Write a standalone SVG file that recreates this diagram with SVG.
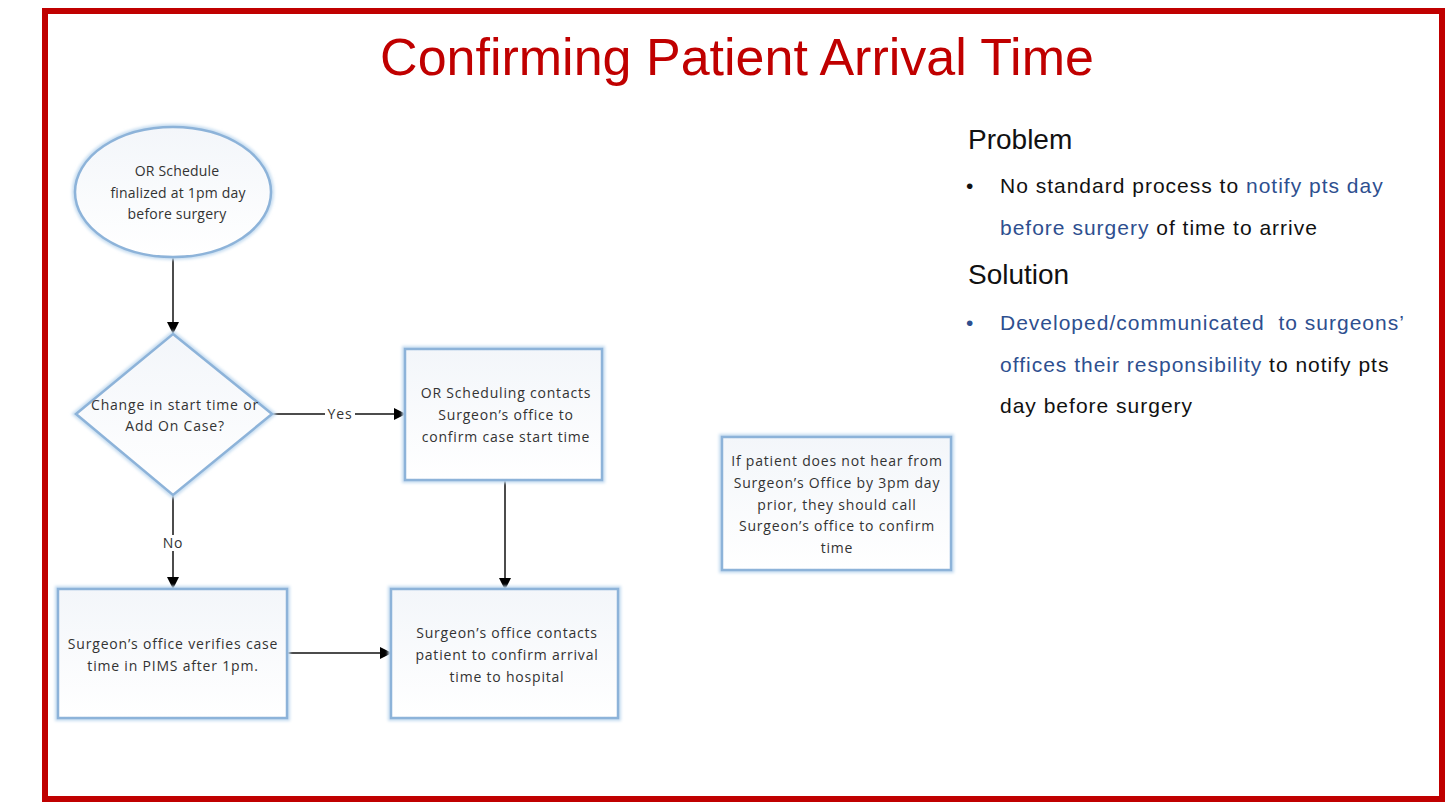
<svg xmlns="http://www.w3.org/2000/svg" width="1451" height="812" viewBox="0 0 1451 812">
<defs>
<linearGradient id="fill" x1="0" y1="0" x2="0" y2="1">
<stop offset="0" stop-color="#f3f6fa"/>
<stop offset="1" stop-color="#ffffff"/>
</linearGradient>
<filter id="glow" x="-10%" y="-10%" width="120%" height="120%">
<feGaussianBlur stdDeviation="1.5"/>
</filter>
<marker id="arr" markerWidth="12" markerHeight="12" refX="11" refY="6" orient="auto" markerUnits="userSpaceOnUse">
<path d="M0,0 L12,6 L0,12 z" fill="#000"/>
</marker>
</defs>
<style>
.shape{fill:url(#fill);stroke:#8db3d9;stroke-width:2.5}
.halo{fill:none;stroke:#c5dcf0;stroke-width:6;filter:url(#glow)}
.nt{font-family:"Open Sans","Liberation Sans",sans-serif;font-size:14px;letter-spacing:0.8px;fill:#333;text-anchor:middle}
.el{letter-spacing:0.2px}
.conn{stroke:#111;stroke-width:1.5;fill:none}
.rt{font-family:"Liberation Sans",Arial,sans-serif;font-size:21px;letter-spacing:1px;fill:#111}
.hd{font-family:"Liberation Sans",Arial,sans-serif;font-size:28px;fill:#111}
.bl{fill:#2e4f8f}
</style>
<rect x="0" y="0" width="1451" height="812" fill="#fff"/>
<rect x="45" y="11" width="1397" height="788" fill="#fff" stroke="#c00000" stroke-width="6"/>
<text x="737" y="75" font-family="Liberation Sans, Arial, sans-serif" font-size="52" fill="#c00000" text-anchor="middle">Confirming Patient Arrival Time</text>

<g id="connectors">
<line class="conn" x1="173" y1="258" x2="173" y2="333" marker-end="url(#arr)"/>
<line class="conn" x1="272" y1="414" x2="405" y2="414" marker-end="url(#arr)"/>
<rect x="325" y="405" width="30" height="16" fill="#fff"/>
<text x="340" y="419" class="nt">Yes</text>
<line class="conn" x1="173" y1="496" x2="173" y2="588" marker-end="url(#arr)"/>
<rect x="161" y="535" width="24" height="16" fill="#fff"/>
<text x="173" y="548" class="nt">No</text>
<line class="conn" x1="505" y1="480" x2="505" y2="589" marker-end="url(#arr)"/>
<line class="conn" x1="287" y1="653" x2="391" y2="653" marker-end="url(#arr)"/>
</g>

<g id="start">
<ellipse class="halo" cx="173" cy="192" rx="98" ry="65"/>
<ellipse class="shape" cx="173" cy="192" rx="98" ry="65"/>
<text class="nt el" x="177" y="176">OR Schedule</text>
<text class="nt el" x="178" y="198">finalized at 1pm day</text>
<text class="nt el" x="177" y="219">before surgery</text>
</g>

<g id="decision">
<polygon class="halo" points="173,334 272,414 173,495 76,414"/>
<polygon class="shape" points="173,334 272,414 173,495 76,414"/>
<text class="nt" x="175" y="410">Change in start time or</text>
<text class="nt" x="175" y="431">Add On Case?</text>
</g>

<g id="or-scheduling">
<rect class="halo" x="405" y="349" width="197" height="131"/>
<rect class="shape" x="405" y="349" width="197" height="131"/>
<text class="nt" x="506" y="398">OR Scheduling contacts</text>
<text class="nt" x="506" y="420">Surgeon’s office to</text>
<text class="nt" x="506" y="442">confirm case start time</text>
</g>

<g id="verifies">
<rect class="halo" x="58" y="589" width="229" height="129"/>
<rect class="shape" x="58" y="589" width="229" height="129"/>
<text class="nt" x="173" y="649">Surgeon’s office verifies case</text>
<text class="nt" x="173" y="671">time in PIMS after 1pm.</text>
</g>

<g id="contacts">
<rect class="halo" x="391" y="589" width="227" height="129"/>
<rect class="shape" x="391" y="589" width="227" height="129"/>
<text class="nt" x="507" y="638">Surgeon’s office contacts</text>
<text class="nt" x="507" y="660">patient to confirm arrival</text>
<text class="nt" x="507" y="682">time to hospital</text>
</g>

<g id="note">
<rect class="halo" x="722" y="437" width="229" height="133"/>
<rect class="shape" x="722" y="437" width="229" height="133"/>
<text class="nt" x="837" y="466">If patient does not hear from</text>
<text class="nt" x="837" y="488">Surgeon’s Office by 3pm day</text>
<text class="nt" x="837" y="510">prior, they should call</text>
<text class="nt" x="837" y="531">Surgeon’s office to confirm</text>
<text class="nt" x="837" y="553">time</text>
</g>

<g id="side-text">
<text class="hd" x="968" y="149">Problem</text>
<text class="rt" x="966" y="193">•</text>
<text class="rt" x="1000" y="193">No standard process to <tspan class="bl">notify pts day</tspan></text>
<text class="rt" x="1000" y="235"><tspan class="bl">before surgery</tspan> of time to arrive</text>
<text class="hd" x="968" y="284">Solution</text>
<text class="rt bl" x="966" y="330">•</text>
<text class="rt" x="1000" y="330" xml:space="preserve"><tspan class="bl">Developed/communicated  to surgeons’</tspan></text>
<text class="rt" x="1000" y="372"><tspan class="bl">offices their responsibility</tspan> to notify pts</text>
<text class="rt" x="1000" y="413">day before surgery</text>
</g>
</svg>
